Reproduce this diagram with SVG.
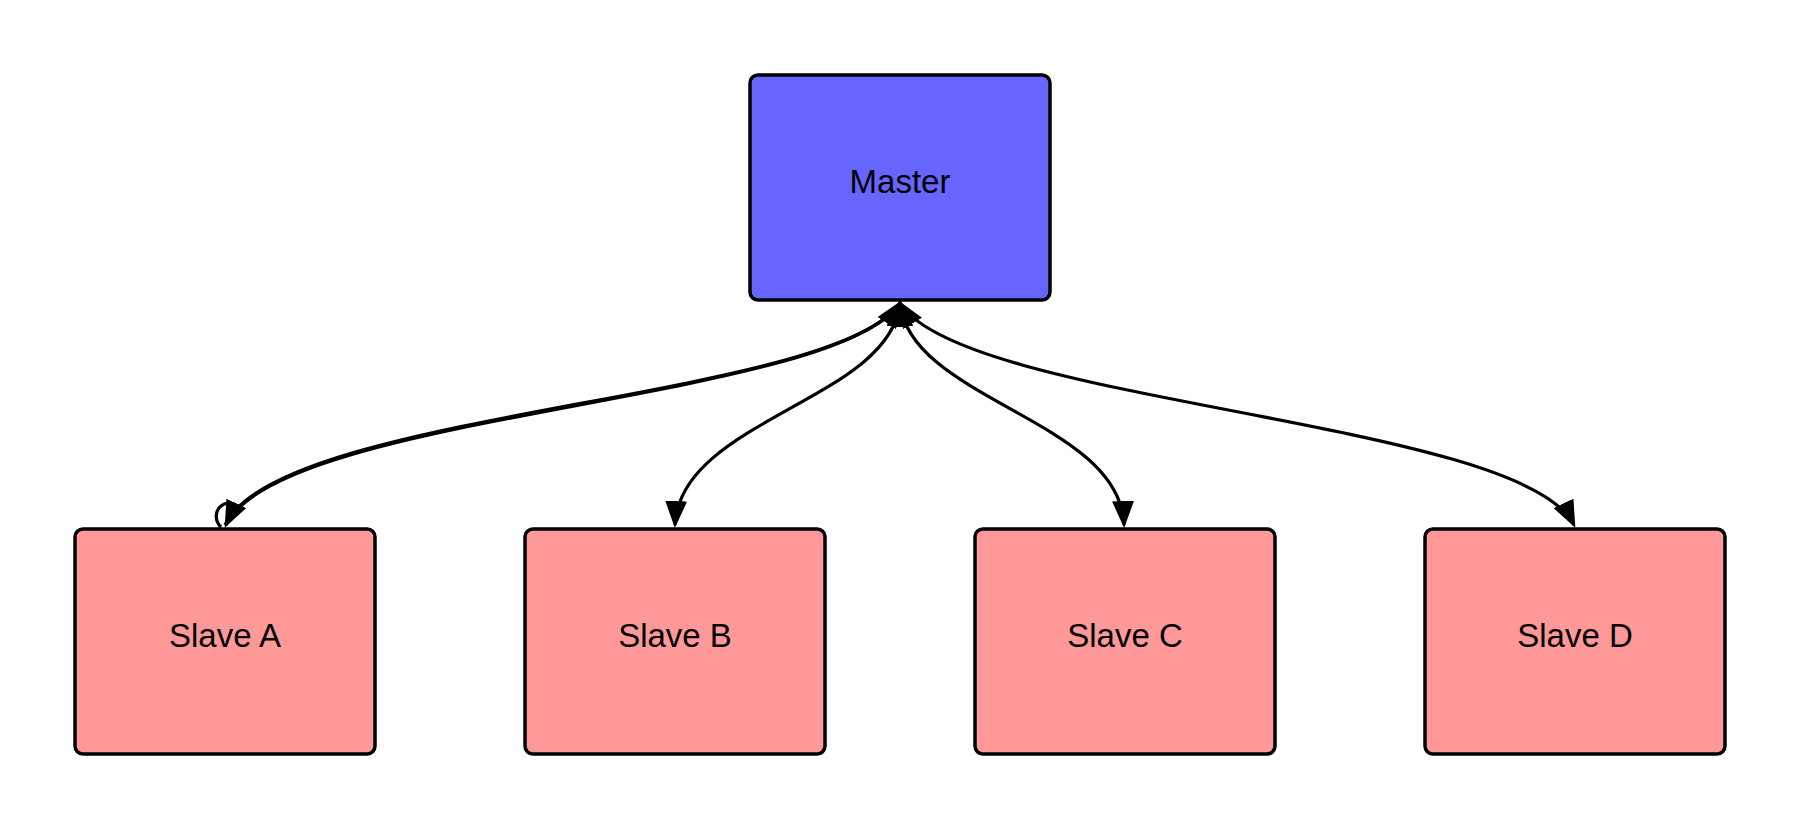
<svg xmlns="http://www.w3.org/2000/svg" width="1800" height="829" viewBox="0 0 1800 829">
<defs>
<style>
.box{stroke:#000;stroke-width:3.5}
.master{fill:#6666FF}
.slave{fill:#FF9999}
.lbl{font-family:"Liberation Sans",Arial,sans-serif;font-size:33px;fill:#000;text-anchor:middle}
.edge{fill:none;stroke:#000;stroke-width:3.2}
</style>
<marker id="arr" markerUnits="userSpaceOnUse" viewBox="0 0 27 22" markerWidth="27" markerHeight="22" refX="24" refY="11" orient="auto-start-reverse">
<path d="M0,0 L27,11 L0,22 Z" fill="#000"/>
</marker>
</defs>
<rect width="1800" height="829" fill="#fff"/>
<g id="master">
<rect class="box master" x="750" y="75" width="300" height="225" rx="8"/>
<text class="lbl" x="900" y="193">Master</text>
</g>
<g id="slave-a">
<rect class="box slave" x="75" y="529" width="300" height="225" rx="8"/>
<text class="lbl" x="225" y="647">Slave A</text>
</g>
<g id="slave-b">
<rect class="box slave" x="525" y="529" width="300" height="225" rx="8"/>
<text class="lbl" x="675" y="647">Slave B</text>
</g>
<g id="slave-c">
<rect class="box slave" x="975" y="529" width="300" height="225" rx="8"/>
<text class="lbl" x="1125" y="647">Slave C</text>
</g>
<g id="slave-d">
<rect class="box slave" x="1425" y="529" width="300" height="225" rx="8"/>
<text class="lbl" x="1575" y="647">Slave D</text>
</g>
<g id="connectors">
<path class="edge" d="M900,303 C835,402 280,412 226,525" marker-start="url(#arr)" marker-end="url(#arr)"/>
<path class="edge" d="M899,304 C833,401 279,410 225,525" stroke-width="2"/>
<path class="edge" d="M227,503 C214,507 214,520 221,527" stroke-width="2.5"/>
<path class="edge" d="M900,303 C890,400 680,420 675,525" marker-start="url(#arr)" marker-end="url(#arr)"/>
<path class="edge" d="M900,303 C910,400 1120,420 1124,525" marker-start="url(#arr)" marker-end="url(#arr)"/>
<path class="edge" d="M900,303 C962,404 1523,420 1574,525" marker-start="url(#arr)" marker-end="url(#arr)"/>
</g>
</svg>
